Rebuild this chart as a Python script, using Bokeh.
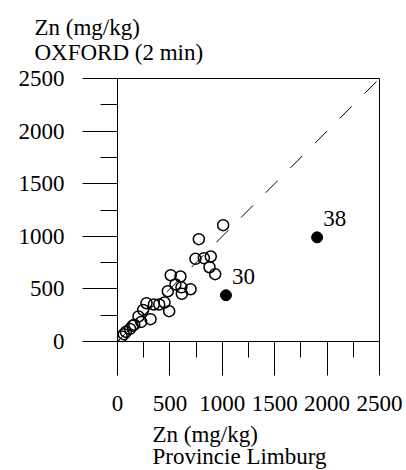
from bokeh.plotting import figure
from bokeh.models import Range1d, FixedTicker, Title, ColumnDataSource
from bokeh.core.properties import value
from bokeh.embed import file_html
from bokeh.resources import INLINE

# ---- data ----
open_x = [1008, 776, 744, 824, 890, 878, 932, 508, 601, 553, 614, 697, 480, 610,
          277, 347, 398, 448, 493, 245, 200, 315, 226, 143, 120, 80, 41, 60, 160]
open_y = [1106, 973, 786, 792, 808, 706, 640, 630, 618, 542, 453, 497, 478, 515,
          364, 352, 352, 371, 288, 300, 238, 212, 186, 149, 120, 92, 48, 70, 160]
outlier_x = [1035, 1905]
outlier_y = [440, 990]
outlier_labels = ["30", "38"]
major_ticks = [0, 500, 1000, 1500, 2000, 2500]
minor_ticks = [250, 750, 1250, 1750, 2250]
axis_max = 2500
identity = [0, axis_max]

FONT = "Liberation Serif"
FS = "23px"

p = figure(width=406, height=470, output_backend="svg", toolbar_location=None,
           x_range=Range1d(0, axis_max), y_range=Range1d(0, axis_max),
           min_border_left=117, min_border_right=27, min_border_top=78,
           min_border_bottom=129)
p.background_fill_color = "white"
p.border_fill_color = "white"
p.outline_line_color = "black"
p.outline_line_width = 1
p.outline_line_alpha = 1
p.grid.visible = False

for ax, tout, mout, stand in ((p.xaxis[0], 34, 16, 20), (p.yaxis[0], 35, 17, 18)):
    ax.ticker = FixedTicker(ticks=major_ticks, minor_ticks=minor_ticks)
    ax.major_tick_in = 0
    ax.minor_tick_in = 0
    ax.major_tick_out = tout
    ax.minor_tick_out = mout
    ax.axis_line_color = "black"
    ax.major_tick_line_color = "black"
    ax.minor_tick_line_color = "black"
    ax.axis_line_width = 1
    ax.major_tick_line_width = 1
    ax.minor_tick_line_width = 1
    ax.major_label_text_font = FONT
    ax.major_label_text_font_size = FS
    ax.major_label_text_color = "black"
    ax.major_label_standoff = stand

p.line(identity, identity, line_color="black", line_width=1, line_dash="17 18")

p.scatter(open_x, open_y, size=11, fill_color=None, line_color="black", line_width=1.5)

src = ColumnDataSource(dict(x=outlier_x, y=outlier_y, t=outlier_labels))
p.scatter("x", "y", source=src, size=11, fill_color="black", line_color="black")
p.text("x", "y", text="t", source=src, x_offset=6, y_offset=-19,
       text_font=value(FONT), text_font_size=FS, text_baseline="alphabetic",
       text_align="left", text_color="black")

# titles (outermost above)
p.title.text = "Zn (mg/kg)"
p.title.align = "left"
p.title.offset = -83
p.title.standoff = -6
p.title.text_font = FONT
p.title.text_font_size = FS
p.title.text_font_style = "normal"
p.title.text_color = "black"

def mk_title(txt, off, standoff, size=FS):
    return Title(text=txt, align="left", offset=off, standoff=standoff,
                 text_font=FONT, text_font_size=size, text_font_style="normal",
                 text_color="black")

# spacer between the frame and the upper texts
p.add_layout(mk_title(" ", 0, 10, size="1px"), "above")
p.add_layout(mk_title("OXFORD (2 min)", -83, 2), "above")
p.add_layout(mk_title("Zn (mg/kg)", 35, 12), "below")
p.add_layout(mk_title("Provincie Limburg", 35, -22), "below")

open("out.html", "w").write(file_html(p, INLINE))
